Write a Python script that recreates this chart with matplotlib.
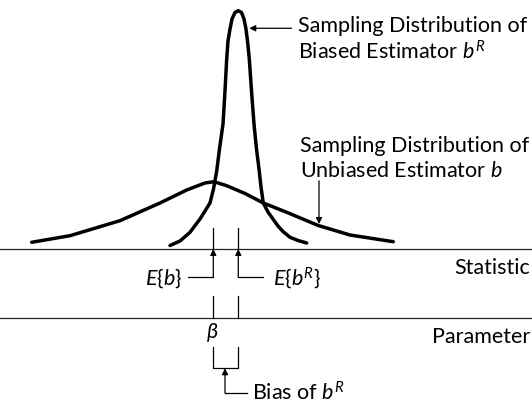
import matplotlib
matplotlib.use("Agg")
import matplotlib.pyplot as plt

plt.rcParams['font.family'] = ['Lato', 'DejaVu Sans']
plt.rcParams['mathtext.fontset'] = 'custom'
plt.rcParams['mathtext.rm'] = 'Lato'
plt.rcParams['mathtext.it'] = 'Lato:italic'
plt.rcParams['mathtext.bf'] = 'Lato:bold'

# ---- data (x in units of the bias, beta = E{b} = 0; y = density, peak of b^R = 1) ----
unbiased_x = [-7.264, -5.732, -3.732, -2.132, -1.064, -0.332, 0.028, 0.536,
              1.268, 2.0, 2.936, 4.2, 5.468, 7.2]
unbiased_y = [0.0281, 0.0558, 0.1187, 0.1929, 0.2474, 0.2767, 0.2822, 0.2654,
              0.2327, 0.1929, 0.1539, 0.0985, 0.0587, 0.0306]

biased_x = [-1.732, -1.332, -0.932, -0.532, -0.332, -0.132, 0.008, 0.136, 0.248,
            0.388, 0.468, 0.536, 0.588, 0.668, 0.748, 0.868, 1.0, 1.128, 1.228,
            1.308, 1.368, 1.44, 1.528, 1.628, 1.728, 1.828, 1.908, 2.0, 2.188,
            2.4, 2.588, 2.788, 3.068, 3.388, 3.736]
biased_y = [0.0147, 0.0335, 0.0700, 0.1258, 0.1593, 0.1929, 0.2516, 0.3270, 0.4193,
            0.5241, 0.6625, 0.7966, 0.8721, 0.9224, 0.9644, 0.9916, 0.9992, 0.9916,
            0.9644, 0.9224, 0.8721, 0.7966, 0.6625, 0.5241, 0.4193, 0.3354, 0.2600,
            0.1929, 0.1551, 0.1237, 0.0964, 0.0734, 0.0491, 0.0356, 0.0252]

beta = 0.0          # parameter value = E{b}
mean_unbiased = 0.0 # E{b}
mean_biased = 1.0   # E{b^R}

statistic_level = 0.0
parameter_level = -0.2893

label_top1 = "Sampling Distribution of"
label_top2 = r"Biased Estimator $b^R$"
label_mid1 = "Sampling Distribution of"
label_mid2 = r"Unbiased Estimator $b$"
label_eb = r"$E\{b\}$"
label_ebr = r"$E\{b^R\}$"
label_beta = r"$\beta$"
label_bias = r"Bias of $b^R$"
label_stat = "Statistic"
label_param = "Parameter"

# ---- figure ----
fig = plt.figure(figsize=(5.32, 4.06), dpi=100)
ax = fig.add_axes([0, 0, 1, 1])
ax.set_xlim(-8.532, 12.748)
ax.set_ylim(-0.6541, 1.0482)
ax.axis('off')

fs = 15.5
curve_lw = 2.5
thin = 0.9
col = 'black'

# baselines
ax.axhline(statistic_level, color='#222222', lw=thin)
ax.axhline(parameter_level, color='#222222', lw=thin)

# curves
ax.plot(unbiased_x, unbiased_y, color=col, lw=curve_lw, solid_capstyle='round',
        solid_joinstyle='round')
ax.plot(biased_x, biased_y, color=col, lw=curve_lw, solid_capstyle='round',
        solid_joinstyle='round')

arrow = dict(arrowstyle='-|>', mutation_scale=9, lw=thin, color=col,
             shrinkA=0, shrinkB=0)

# ticks above statistic line
for m in (mean_unbiased, mean_biased):
    ax.plot([m, m], [0.0901, statistic_level], color=col, lw=thin)

# E{b} arrow and leader
y_lead = -0.1187
ax.annotate('', xy=(mean_unbiased, statistic_level), xytext=(mean_unbiased, y_lead),
            arrowprops=arrow)
ax.plot([-1.0, mean_unbiased], [y_lead, y_lead], color=col, lw=thin)
ax.text(-1.26, y_lead, label_eb, fontsize=fs, ha='right', va='center')

# E{b^R} arrow and leader
ax.annotate('', xy=(mean_biased, statistic_level), xytext=(mean_biased, y_lead),
            arrowprops=arrow)
ax.plot([mean_biased, 2.0], [y_lead, y_lead], color=col, lw=thin)
ax.text(2.376, y_lead, label_ebr, fontsize=fs, ha='left', va='center')

# ticks above parameter line
for m in (mean_unbiased, mean_biased):
    ax.plot([m, m], [-0.1986, parameter_level], color=col, lw=thin)

# beta
ax.text(beta - 0.06, -0.344, label_beta, fontsize=fs, ha='center', va='center')

# bias bracket
ax.plot([beta, beta, mean_biased, mean_biased], [-0.4122, -0.5002, -0.5002, -0.4122],
        color=col, lw=thin)
x_bias_arrow = 0.468
y_bias = -0.6038
ax.annotate('', xy=(x_bias_arrow, -0.5002), xytext=(x_bias_arrow, y_bias),
            arrowprops=arrow)
ax.plot([x_bias_arrow, 1.336], [y_bias, y_bias], color=col, lw=thin)
ax.text(1.536, -0.629, label_bias, fontsize=fs, ha='left', va='baseline')

# axis labels on right
ax.text(12.66, -0.0755, label_stat, fontsize=fs, ha='right', va='center')
ax.text(12.66, -0.365, label_param, fontsize=fs, ha='right', va='center')

# top annotation
ax.annotate('', xy=(1.44, 0.9254), xytext=(3.136, 0.9254), arrowprops=arrow)
ax.text(3.4, 0.915, label_top1, fontsize=fs, ha='left', va='baseline')
ax.text(3.4, 0.797, label_top2, fontsize=fs, ha='left', va='baseline')

# middle annotation
ax.annotate('', xy=(4.228, 0.1048), xytext=(4.228, 0.286), arrowprops=arrow)
ax.text(3.468, 0.412, label_mid1, fontsize=fs, ha='left', va='baseline')
ax.text(3.468, 0.307, label_mid2, fontsize=fs, ha='left', va='baseline')

fig.savefig('out.png', dpi=100)
